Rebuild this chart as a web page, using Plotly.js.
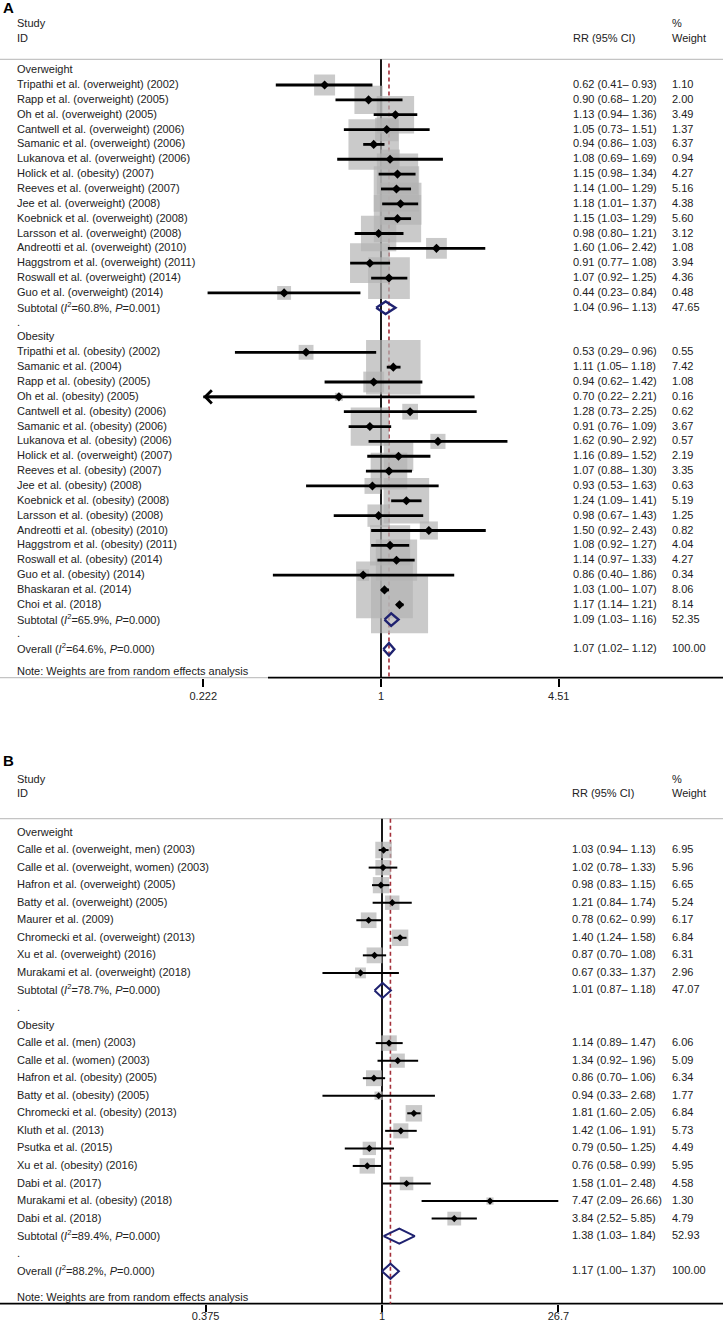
<!DOCTYPE html>
<html>
<head>
<meta charset="utf-8">
<script src="https://cdn.plot.ly/plotly-3.0.1.min.js"></script>
<style>
  html, body { margin: 0; padding: 0; background: #fff; }
  #chart { width: 723px; height: 1326px; }
</style>
</head>
<body>
<div id="chart"></div>
<script>
// ---- Panel A data ----
const aOwStudy = ['Tripathi et al. (overweight) (2002)', 'Rapp et al. (overweight) (2005)', 'Oh et al. (overweight) (2005)',
  'Cantwell et al. (overweight) (2006)', 'Samanic et al. (overweight) (2006)', 'Lukanova et al. (overweight) (2006)',
  'Holick et al. (obesity) (2007)', 'Reeves et al. (overweight) (2007)', 'Jee et al. (overweight) (2008)',
  'Koebnick et al. (overweight) (2008)', 'Larsson et al. (overweight) (2008)', 'Andreotti et al. (overweight) (2010)',
  'Haggstrom et al. (overweight) (2011)', 'Roswall et al. (overweight) (2014)', 'Guo et al. (overweight) (2014)'];
const aOwRR = [0.62, 0.90, 1.13, 1.05, 0.94, 1.08, 1.15, 1.14, 1.18, 1.15, 0.98, 1.60, 0.91, 1.07, 0.44];
const aOwLo = [0.41, 0.68, 0.94, 0.73, 0.86, 0.69, 0.98, 1.00, 1.01, 1.03, 0.80, 1.06, 0.77, 0.92, 0.23];
const aOwHi = [0.93, 1.20, 1.36, 1.51, 1.03, 1.69, 1.34, 1.29, 1.37, 1.29, 1.21, 2.42, 1.08, 1.25, 0.84];
const aOwW = [1.10, 2.00, 3.49, 1.37, 6.37, 0.94, 4.27, 5.16, 4.38, 5.60, 3.12, 1.08, 3.94, 4.36, 0.48];

const aObStudy = ['Tripathi et al. (obesity) (2002)', 'Samanic et al. (2004)', 'Rapp et al. (obesity) (2005)',
  'Oh et al. (obesity) (2005)', 'Cantwell et al. (obesity) (2006)', 'Samanic et al. (obesity) (2006)',
  'Lukanova et al. (obesity) (2006)', 'Holick et al. (overweight) (2007)', 'Reeves et al. (obesity) (2007)',
  'Jee et al. (obesity) (2008)', 'Koebnick et al. (obesity) (2008)', 'Larsson et al. (obesity) (2008)',
  'Andreotti et al. (obesity) (2010)', 'Haggstrom et al. (obesity) (2011)', 'Roswall et al. (obesity) (2014)',
  'Guo et al. (obesity) (2014)', 'Bhaskaran et al. (2014)', 'Choi et al. (2018)'];
const aObRR = [0.53, 1.11, 0.94, 0.70, 1.28, 0.91, 1.62, 1.16, 1.07, 0.93, 1.24, 0.98, 1.50, 1.08, 1.14, 0.86, 1.03, 1.17];
const aObLo = [0.29, 1.05, 0.62, 0.22, 0.73, 0.76, 0.90, 0.89, 0.88, 0.53, 1.09, 0.67, 0.92, 0.92, 0.97, 0.40, 1.00, 1.14];
const aObHi = [0.96, 1.18, 1.42, 2.21, 2.25, 1.09, 2.92, 1.52, 1.30, 1.63, 1.41, 1.43, 2.43, 1.27, 1.33, 1.86, 1.07, 1.21];
const aObW = [0.55, 7.42, 1.08, 0.16, 0.62, 3.67, 0.57, 2.19, 3.35, 0.63, 5.19, 1.25, 0.82, 4.04, 4.27, 0.34, 8.06, 8.14];

const aSubI2 = ['60.8', '65.9'];
const aSubP = ['0.001', '0.000'];
const aSubRR = [1.04, 1.09];
const aSubLo = [0.96, 1.03];
const aSubHi = [1.13, 1.16];
const aSubW = [47.65, 52.35];
const aAll = { i2: '64.6', p: '0.000', rr: 1.07, lo: 1.02, hi: 1.12 };
const aTickVals = [1 / 4.51, 1, 4.51];
const aTickText = ['0.222', '1', '4.51'];

// ---- Panel B data ----
const bOwStudy = ['Calle et al. (overweight, men) (2003)', 'Calle et al. (overweight, women) (2003)',
  'Hafron et al. (overweight) (2005)', 'Batty et al. (overweight) (2005)', 'Maurer et al. (2009)',
  'Chromecki et al. (overweight) (2013)', 'Xu et al. (overweight) (2016)', 'Murakami et al. (overweight) (2018)'];
const bOwRR = [1.03, 1.02, 0.98, 1.21, 0.78, 1.40, 0.87, 0.67];
const bOwLo = [0.94, 0.78, 0.83, 0.84, 0.62, 1.24, 0.70, 0.33];
const bOwHi = [1.13, 1.33, 1.15, 1.74, 0.99, 1.58, 1.08, 1.37];
const bOwW = [6.95, 5.96, 6.65, 5.24, 6.17, 6.84, 6.31, 2.96];

const bObStudy = ['Calle et al. (men) (2003)', 'Calle et al. (women) (2003)', 'Hafron et al. (obesity) (2005)',
  'Batty et al. (obesity) (2005)', 'Chromecki et al. (obesity) (2013)', 'Kluth et al. (2013)',
  'Psutka et al. (2015)', 'Xu et al. (obesity) (2016)', 'Dabi et al. (2017)',
  'Murakami et al. (obesity) (2018)', 'Dabi et al. (2018)'];
const bObRR = [1.14, 1.34, 0.86, 0.94, 1.81, 1.42, 0.79, 0.76, 1.58, 7.47, 3.84];
const bObLo = [0.89, 0.92, 0.70, 0.33, 1.60, 1.06, 0.50, 0.58, 1.01, 2.09, 2.52];
const bObHi = [1.47, 1.96, 1.06, 2.68, 2.05, 1.91, 1.25, 0.99, 2.48, 26.66, 5.85];
const bObW = [6.06, 5.09, 6.34, 1.77, 6.84, 5.73, 4.49, 5.95, 4.58, 1.30, 4.79];

const bSubI2 = ['78.7', '89.4'];
const bSubP = ['0.000', '0.000'];
const bSubRR = [1.01, 1.38];
const bSubLo = [0.87, 1.03];
const bSubHi = [1.18, 1.84];
const bSubW = [47.07, 52.93];
const bAll = { i2: '88.2', p: '0.000', rr: 1.17, lo: 1.00, hi: 1.37 };
const bTickVals = [1 / 26.7, 1, 26.7];
const bTickText = ['0.375', '1', '26.7'];

const groupNames = ['Overweight', 'Obesity'];

const W = 723, H = 1326;
const FONT = 'Liberation Sans, Arial, sans-serif';
const TXT = '#222';
const BOX = '#b4b4b4';
const NAVY = '#1f2270';
const RED = '#a3303a';

function fmt(rr, lo, hi) {
  return rr.toFixed(2) + ' (' + lo.toFixed(2) + '\u2013 ' + hi.toFixed(2) + ')';
}
function het(i2, p) {
  return '(<i>I</i><sup>2</sup>=' + i2 + '%, <i>P</i>=' + p + ')';
}

function buildRows(groups, all) {
  const rows = [];
  groups.forEach(g => {
    rows.push({ kind: 'head', label: g.name });
    g.study.forEach((s, k) => rows.push({ kind: 'study', label: s, rr: g.rr[k], lo: g.lo[k], hi: g.hi[k], w: g.w[k] }));
    rows.push({ kind: 'pool', label: 'Subtotal ' + het(g.i2, g.p), rr: g.srr, lo: g.slo, hi: g.shi, w: g.sw });
    rows.push({ kind: 'dot', label: '.' });
  });
  rows.push({ kind: 'pool', label: 'Overall ' + het(all.i2, all.p), rr: all.rr, lo: all.lo, hi: all.hi, w: 100 });
  return rows;
}

const traces = [];
const annotations = [];
const shapes = [];
const layout = {
  width: W, height: H,
  margin: { l: 0, r: 0, t: 0, b: 0 },
  paper_bgcolor: '#fff',
  plot_bgcolor: 'rgba(0,0,0,0)',
  showlegend: false,
  font: { family: FONT, size: 11, color: TXT }
};

function label(ya, x, y, text) {
  annotations.push({ xref: 'paper', yref: ya, x: x / W, y: y, xanchor: 'left', yanchor: 'middle',
    text: text, showarrow: false, yshift: 1, font: { family: FONT, size: 11, color: TXT } });
}

function addPanel(p) {
  const xa = 'x' + p.n, ya = 'y' + p.n;
  const xkey = 'xaxis' + p.n, ykey = 'yaxis' + p.n;
  const rows = buildRows(p.groups, p.all);
  const nRows = rows.length;
  const axisRow = nRows - 1 + p.axisOff;
  const lineRow = p.lineRow;
  // row index -> pixel: y = p.row0 + p.rowPx * i
  layout[ykey] = {
    domain: [0, 1], visible: false, fixedrange: true,
    range: [(H - p.row0) / p.rowPx, -p.row0 / p.rowPx],
    anchor: xa
  };
  const k = p.pxPerLn * Math.LN10;
  layout[xkey] = {
    type: 'log', domain: [0, 1],
    range: [-p.onePx / k, (W - p.onePx) / k],
    anchor: 'free', position: 1 - (p.row0 + p.rowPx * axisRow) / H,
    showgrid: false, zeroline: false, showline: false,
    ticks: 'outside', ticklen: p.tickLen, tickwidth: 2, tickcolor: '#000',
    ticklabelstandoff: p.tickStandoff,
    tickmode: 'array', tickvals: p.tickVals, ticktext: p.tickText,
    tickfont: { family: FONT, size: 11, color: TXT }
  };

  // reference lines
  traces.push({ x: [1, 1], y: [lineRow, axisRow], xaxis: xa, yaxis: ya, mode: 'lines',
    line: { color: '#000', width: 1.8 }, hoverinfo: 'skip' });
  traces.push({ x: [p.all.rr, p.all.rr], y: [p.redStart, axisRow], xaxis: xa, yaxis: ya, mode: 'lines',
    line: { color: RED, width: 1.6, dash: '4px,3px' }, hoverinfo: 'skip' });

  const bx = [], by = [], bs = [];
  const cx = [], cy = [];
  const px = [], py = [];
  const dx = [], dy = [];
  const lim0 = p.tickVals[0], lim1 = p.tickVals[2];
  rows.forEach((r, i) => {
    label(ya, 15, i, r.label);
    if (r.kind === 'study' || r.kind === 'pool') {
      label(ya, p.rrX, i, fmt(r.rr, r.lo, r.hi));
      label(ya, p.wX, i, r.w.toFixed(2));
    }
    if (r.kind === 'study') {
      bx.push(r.rr); by.push(i); bs.push(p.boxK * Math.sqrt(r.w));
      const lo = Math.max(r.lo, lim0), hi = Math.min(r.hi, lim1);
      cx.push(lo, hi, null); cy.push(i, i, null);
      px.push(r.rr); py.push(i);
      if (r.lo < lim0) {
        // CI runs past the axis limit: draw an arrow at the cut end
        annotations.push({ xref: xa, yref: ya, axref: xa, ayref: ya,
          x: Math.log10(lim0), y: i, ax: Math.log10(r.rr), ay: i, text: '',
          showarrow: true, arrowhead: 4, arrowsize: 0.9, arrowwidth: p.ciW, arrowcolor: '#000', standoff: 0 });
      }
    }
    if (r.kind === 'pool') {
      const h = p.dmH;
      dx.push(r.lo, r.rr, r.hi, r.rr, r.lo, null);
      dy.push(i, i - h, i, i + h, i, null);
    }
  });

  traces.push({ x: bx, y: by, xaxis: xa, yaxis: ya, mode: 'markers', hoverinfo: 'skip',
    marker: { symbol: 'square', size: bs, color: BOX, line: { width: 0 } } });
  traces.push({ x: cx, y: cy, xaxis: xa, yaxis: ya, mode: 'lines', connectgaps: false, hoverinfo: 'skip',
    line: { color: '#000', width: p.ciW } });
  traces.push({ x: px, y: py, xaxis: xa, yaxis: ya, mode: 'markers', hoverinfo: 'skip',
    marker: { symbol: 'diamond', size: p.ptSize, color: '#000', line: { width: 0 } } });
  traces.push({ x: dx, y: dy, xaxis: xa, yaxis: ya, mode: 'lines', connectgaps: false, hoverinfo: 'skip',
    line: { color: NAVY, width: p.dmW } });

  // column headers
  label(ya, 15, p.hdrRows[0], 'Study');
  label(ya, 15, p.hdrRows[1], 'ID');
  label(ya, p.rrX, p.hdrRows[1], 'RR (95% CI)');
  label(ya, p.wX, p.hdrRows[0], '%');
  label(ya, p.wX, p.hdrRows[1], 'Weight');
  label(ya, 15, nRows - 1 + p.noteOff, 'Note: Weights are from random effects analysis');
  annotations.push({ xref: 'paper', yref: 'paper', x: 1 / W, y: 1 - p.letterY / H, xanchor: 'left', yanchor: 'middle',
    text: '<b>' + p.letter + '</b>', showarrow: false, font: { family: FONT, size: 15, color: '#000' } });

  // table rule under header and axis line
  shapes.push({ type: 'line', xref: 'paper', yref: ya, x0: 0, x1: 1, y0: lineRow, y1: lineRow,
    line: { color: '#c4c4c4', width: 1.3 }, layer: 'below' });
  if (p.axisStart > 0) {
    shapes.push({ type: 'line', xref: 'paper', yref: ya, x0: 0, x1: p.axisStart / W, y0: axisRow, y1: axisRow,
      line: { color: '#c4c4c4', width: 1.3 }, layer: 'below' });
  }
  shapes.push({ type: 'line', xref: 'paper', yref: ya, x0: p.axisStart / W, x1: 1, y0: axisRow, y1: axisRow,
    line: { color: '#000', width: 1.8 }, layer: 'below' });
}

addPanel({
  n: '', letter: 'A', letterY: 8,
  groups: [
    { name: groupNames[0], study: aOwStudy, rr: aOwRR, lo: aOwLo, hi: aOwHi, w: aOwW,
      i2: aSubI2[0], p: aSubP[0], srr: aSubRR[0], slo: aSubLo[0], shi: aSubHi[0], sw: aSubW[0] },
    { name: groupNames[1], study: aObStudy, rr: aObRR, lo: aObLo, hi: aObHi, w: aObW,
      i2: aSubI2[1], p: aSubP[1], srr: aSubRR[1], slo: aSubLo[1], shi: aSubHi[1], sw: aSubW[1] }
  ],
  all: aAll, tickVals: aTickVals, tickText: aTickText,
  row0: 70.15, rowPx: 14.85, onePx: 381, pxPerLn: 118,
  lineRow: -0.73, redStart: -0.45, hdrRows: [-3.1, -2.1], noteOff: 1.53, axisOff: 1.91,
  tickLen: 8, tickStandoff: 0,
  rrX: 571, wX: 670, boxK: 20, ptSize: 7, ciW: 2.8, dmW: 2.4, dmH: 0.42, axisStart: 268
});

addPanel({
  n: '2', letter: 'B', letterY: 760,
  groups: [
    { name: groupNames[0], study: bOwStudy, rr: bOwRR, lo: bOwLo, hi: bOwHi, w: bOwW,
      i2: bSubI2[0], p: bSubP[0], srr: bSubRR[0], slo: bSubLo[0], shi: bSubHi[0], sw: bSubW[0] },
    { name: groupNames[1], study: bObStudy, rr: bObRR, lo: bObLo, hi: bObHi, w: bObW,
      i2: bSubI2[1], p: bSubP[1], srr: bSubRR[1], slo: bSubLo[1], shi: bSubHi[1], sw: bSubW[1] }
  ],
  all: bAll, tickVals: bTickVals, tickText: bTickText,
  row0: 832.5, rowPx: 17.55, onePx: 382, pxPerLn: 53.7,
  lineRow: -0.79, redStart: -0.79, hdrRows: [-3.0, -2.2], noteOff: 1.5, axisOff: 1.85,
  tickLen: 7, tickStandoff: -5,
  rrX: 570, wX: 670, boxK: 6.3, ptSize: 5.5, ciW: 2, dmW: 2, dmH: 0.43, axisStart: 0
});

layout.annotations = annotations;
layout.shapes = shapes;

Plotly.newPlot('chart', traces, layout, { displayModeBar: false, staticPlot: true });
</script>
</body>
</html>
